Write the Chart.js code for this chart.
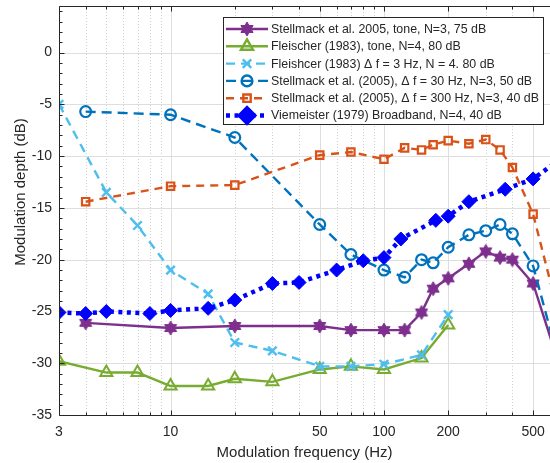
<!DOCTYPE html>
<html>
<head>
<meta charset="utf-8">
<script src="https://cdn.jsdelivr.net/npm/chart.js@4.4.1/dist/chart.umd.min.js"></script>
<style>
    html, body { margin: 0; padding: 0; background: #fff; overflow: hidden; }
    #wrap { width: 550px; height: 463px; }
</style>
</head>
<body>
<div id="wrap"><canvas id="modChart" width="550" height="463"></canvas></div>
<script>
/* ========================================================
   DATA
======================================================== */
const fleischerFreqs  = [3, 5, 7, 10, 15, 20, 30, 50, 70, 100, 150, 200];
const fleischerTone   = [-29.8, -30.9, -30.9, -32.2, -32.2, -31.5, -31.8, -30.6, -30.3, -30.6, -29.5, -26.3];
const fleischerDf3    = [-5.0, -13.5, -16.7, -21.0, -23.3, -28.0, -28.8, -30.3, -30.3, -30.1, -29.2, -25.3];

// last point (700 Hz) sits just past the right edge of the axis
const stellmackFreqs  = [4, 10, 20, 50, 70, 100, 125, 150, 170, 200, 250, 300, 350, 400, 500, 700];
const stellmackTone   = [-26.1, -26.6, -26.4, -26.4, -26.8, -26.8, -26.8, -25.1, -22.8, -21.8, -20.4, -19.2, -19.8, -20.0, -22.3, -31.7];
const stellmackDf30   = [-5.7, -6.0, -8.2, -16.6, -19.5, -21.0, -21.7, -20.0, -20.3, -18.8, -17.6, -17.2, -16.6, -17.5, -20.6, -31.8];
const stellmackDf300  = [-14.4, -12.9, -12.8, -9.9, -9.6, -10.3, -9.2, -9.4, -8.9, -8.5, -8.8, -8.4, -9.4, -11.1, -15.6, -27.4];

const viemeisterFreqs = [3, 4, 5, 8, 10, 15, 20, 30, 40, 60, 80, 100, 120, 175, 200, 250, 370, 500, 700];
const viemeisterBB    = [-25.1, -25.2, -25.0, -25.2, -24.9, -24.7, -23.9, -22.3, -22.2, -21.0, -20.1, -19.8, -18.0, -16.2, -15.8, -14.4, -13.2, -12.2, -10.0];

const xTickLabels = [3, 10, 50, 100, 200, 500];
const xGridFreqs  = [3, 4, 5, 6, 7, 8, 9, 10, 20, 30, 40, 50, 60, 70, 80, 90, 100, 200, 300, 400, 500, 600];
const yTickValues = [-35, -30, -25, -20, -15, -10, -5, 0];

const legendLabels = [
    'Stellmack et al. 2005, tone, N=3, 75 dB',
    'Fleischer (1983), tone, N=4, 80 dB',
    'Fleishcer (1983) \u0394 f = 3 Hz, N = 4. 80 dB',
    'Stellmack et al. (2005), \u0394 f = 30 Hz, N=3, 50 dB',
    'Stellmack et al. (2005), \u0394 f = 300 Hz, N=3, 40 dB',
    'Viemeister (1979) Broadband, N=4, 40 dB'
];

const AXIS_COLOR = '#262626';
const FONT = '"Liberation Sans", Arial, sans-serif';

/* ========================================================
   HELPERS
======================================================== */
function pairs(xs, ys) {
    return xs.map((x, i) => ({ x: x, y: ys[i] }));
}

// filled six-pointed star marker
function hexagram(color, r) {
    const size = Math.ceil(r * 2 + 4);
    const c = document.createElement('canvas');
    c.width = size; c.height = size;
    const g = c.getContext('2d');
    const cx = size / 2, cy = size / 2, ri = r / Math.sqrt(3);
    g.beginPath();
    for (let i = 0; i < 12; i++) {
        const a  = -Math.PI / 2 + i * Math.PI / 6;
        const rr = i % 2 === 0 ? r : ri;
        g.lineTo(cx + rr * Math.cos(a), cy + rr * Math.sin(a));
    }
    g.closePath();
    g.fillStyle = color;
    g.fill();
    g.lineWidth = 1;
    g.strokeStyle = color;
    g.stroke();
    return c;
}

const starImg = hexagram('#7E2F8E', 7);

/* ========================================================
   DATASETS
======================================================== */
const datasets = [
    {
        data: pairs(stellmackFreqs, stellmackTone),
        borderColor: '#7E2F8E', borderWidth: 2.4, borderDash: [],
        pointStyle: starImg, pointRadius: 7, pointBorderWidth: 1,
        pointBackgroundColor: '#7E2F8E', pointBorderColor: '#7E2F8E', order: 5
    },
    {
        data: pairs(fleischerFreqs, fleischerTone),
        borderColor: '#77AC30', borderWidth: 2.4, borderDash: [],
        pointStyle: 'triangle', pointRadius: 7, pointBorderWidth: 2,
        pointBackgroundColor: 'rgba(0,0,0,0)', pointBorderColor: '#77AC30', order: 4
    },
    {
        data: pairs(fleischerFreqs, fleischerDf3),
        borderColor: '#4DBEEE', borderWidth: 2.4, borderDash: [9, 6],
        pointStyle: 'crossRot', pointRadius: 6, pointBorderWidth: 2.4,
        pointBackgroundColor: 'rgba(0,0,0,0)', pointBorderColor: '#4DBEEE', order: 3
    },
    {
        data: pairs(stellmackFreqs, stellmackDf30),
        borderColor: '#0072BD', borderWidth: 2.4, borderDash: [10, 6],
        pointStyle: 'circle', pointRadius: 5.4, pointBorderWidth: 2.2,
        pointBackgroundColor: 'rgba(0,0,0,0)', pointBorderColor: '#0072BD', order: 2
    },
    {
        data: pairs(stellmackFreqs, stellmackDf300),
        borderColor: '#D95319', borderWidth: 2.4, borderDash: [8, 6],
        pointStyle: 'rect', pointRadius: 5.2, pointBorderWidth: 2.2,
        pointBackgroundColor: 'rgba(0,0,0,0)', pointBorderColor: '#D95319', order: 1
    },
    {
        data: pairs(viemeisterFreqs, viemeisterBB),
        borderColor: '#0000FF', borderWidth: 4.5, borderDash: [4, 4.5],
        pointStyle: 'rectRot', pointRadius: 7, pointBorderWidth: 1,
        pointBackgroundColor: '#0000FF', pointBorderColor: '#0000FF', order: 0
    }
];

datasets.forEach((d, i) => {
    d.label = legendLabels[i];
    d.fill = false;
    d.tension = 0;
    d.pointHoverRadius = d.pointRadius;
});

/* ========================================================
   GRID, FRAME, TICKS AND LEGEND
======================================================== */
const axesDecor = {
    id: 'axesDecor',
    beforeDatasetsDraw(chart) {
        const { ctx, chartArea: a, scales: { x, y } } = chart;
        ctx.save();
        ctx.beginPath();
        ctx.rect(a.left, a.top, a.right - a.left, a.bottom - a.top);
        ctx.clip();

        // vertical grid, solid at labelled ticks and dotted between
        xGridFreqs.forEach(f => {
            const px = Math.round(x.getPixelForValue(f)) + 0.5;
            const major = xTickLabels.includes(f);
            ctx.beginPath();
            ctx.setLineDash(major ? [] : [1, 2]);
            ctx.strokeStyle = major ? '#dedede' : '#cfcfcf';
            ctx.lineWidth = 1;
            ctx.moveTo(px, a.top);
            ctx.lineTo(px, a.bottom);
            ctx.stroke();
        });

        ctx.setLineDash([]);
        yTickValues.forEach(v => {
            const py = Math.round(y.getPixelForValue(v)) + 0.5;
            ctx.beginPath();
            ctx.strokeStyle = '#dedede';
            ctx.lineWidth = 1;
            ctx.moveTo(a.left, py);
            ctx.lineTo(a.right, py);
            ctx.stroke();
        });
        ctx.restore();
    },
    afterDatasetsDraw(chart) {
        const { ctx, chartArea: a, scales: { x, y } } = chart;
        ctx.save();
        ctx.setLineDash([]);
        ctx.strokeStyle = AXIS_COLOR;
        ctx.lineWidth = 1;

        // box
        const L = Math.round(a.left) + 0.5, B = Math.round(a.bottom) + 0.5, T = Math.round(a.top) + 0.5;
        ctx.beginPath();
        ctx.moveTo(a.right + 2, T);
        ctx.lineTo(L, T);
        ctx.lineTo(L, B);
        ctx.lineTo(a.right + 2, B);
        ctx.stroke();

        // inward ticks on x (bottom and top)
        xGridFreqs.forEach(f => {
            const px = Math.round(x.getPixelForValue(f)) + 0.5;
            const len = xTickLabels.includes(f) ? 5 : 3;
            ctx.beginPath();
            ctx.moveTo(px, B); ctx.lineTo(px, B - len);
            ctx.moveTo(px, T); ctx.lineTo(px, T + len);
            ctx.stroke();
        });

        // inward ticks on y, minor every 1 dB
        for (let v = -35; v <= 4; v++) {
            const py = Math.round(y.getPixelForValue(v)) + 0.5;
            const len = v % 5 === 0 ? 5 : 3;
            ctx.beginPath();
            ctx.moveTo(L, py); ctx.lineTo(L + len, py);
            ctx.stroke();
        }

        // axis titles
        ctx.fillStyle = AXIS_COLOR;
        ctx.font = '15px ' + FONT;
        ctx.textAlign = 'center';
        ctx.textBaseline = 'middle';
        ctx.fillText('Modulation frequency (Hz)', (a.left + a.right) / 2, 453);
        ctx.save();
        ctx.translate(21, 192);
        ctx.rotate(-Math.PI / 2);
        ctx.fillText('Modulation depth (dB)', 0, 0);
        ctx.restore();

        // legend
        const box = { x: 223, y: 17, w: 320, h: 107 };
        ctx.fillStyle = '#ffffff';
        ctx.fillRect(box.x, box.y, box.w, box.h);
        ctx.strokeStyle = AXIS_COLOR;
        ctx.lineWidth = 1;
        ctx.strokeRect(box.x + 0.5, box.y + 0.5, box.w, box.h);

        chart.data.datasets.forEach((d, i) => {
            const cy = 29 + i * 17.3;
            ctx.save();
            ctx.strokeStyle = d.borderColor;
            ctx.lineWidth = d.borderWidth;
            ctx.setLineDash(d.borderDash);
            ctx.beginPath();
            ctx.moveTo(226, cy);
            ctx.lineTo(268, cy);
            ctx.stroke();
            ctx.setLineDash([]);
            ctx.fillStyle = d.pointBackgroundColor;
            ctx.strokeStyle = d.pointBorderColor;
            Chart.helpers.drawPoint(ctx, {
                pointStyle: d.pointStyle,
                radius: d.pointRadius,
                borderWidth: d.pointBorderWidth,
                rotation: 0
            }, 247, cy);
            ctx.restore();

            ctx.fillStyle = AXIS_COLOR;
            ctx.font = '12.4px ' + FONT;
            ctx.textAlign = 'left';
            ctx.textBaseline = 'middle';
            ctx.fillText(d.label, 271, cy + 0.5);
        });
        ctx.restore();
    }
};

/* ========================================================
   CHART
======================================================== */
const chart = new Chart(document.getElementById('modChart').getContext('2d'), {
    type: 'line',
    data: { datasets: datasets },
    options: {
        responsive: false,
        animation: false,
        events: [],
        layout: { autoPadding: false, padding: { top: 6, right: 0, left: 0, bottom: 0 } },
        plugins: { legend: { display: false }, tooltip: { enabled: false } },
        scales: {
            x: {
                type: 'logarithmic',
                min: 3,
                max: 600,
                offset: false,
                grid: { display: false, drawTicks: false },
                border: { display: false },
                afterBuildTicks: s => { s.ticks = xGridFreqs.map(v => ({ value: v })); },
                afterFit: s => { s.height = 48; s.paddingLeft = 0; s.paddingRight = 0; },
                ticks: {
                    autoSkip: false,
                    maxRotation: 0,
                    minRotation: 0,
                    padding: 9,
                    color: AXIS_COLOR,
                    font: { family: FONT, size: 14 },
                    callback: v => xTickLabels.includes(v) ? String(v) : ''
                }
            },
            y: {
                type: 'linear',
                min: -35,
                max: 4.5,
                grid: { display: false, drawTicks: false },
                border: { display: false },
                afterBuildTicks: s => { s.ticks = yTickValues.map(v => ({ value: v })); },
                afterFit: s => { s.width = 59; s.paddingTop = 0; s.paddingBottom = 0; },
                ticks: {
                    padding: 7,
                    color: AXIS_COLOR,
                    font: { family: FONT, size: 14 },
                    callback: v => String(v)
                }
            }
        }
    },
    plugins: [axesDecor]
});
</script>
</body>
</html>
